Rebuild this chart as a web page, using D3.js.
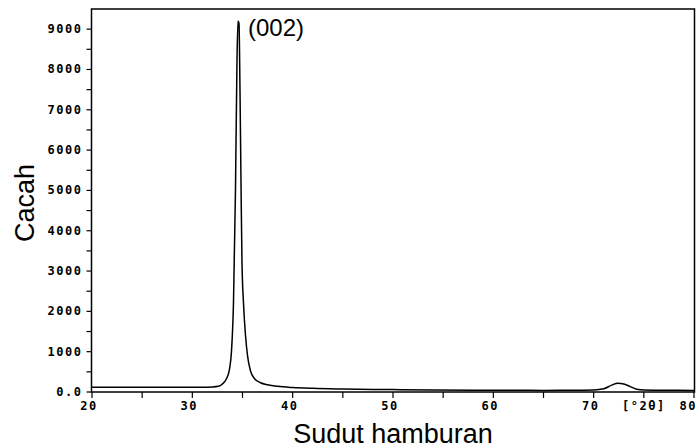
<!DOCTYPE html>
<html>
<head>
<meta charset="utf-8">
<script src="https://cdn.jsdelivr.net/npm/d3@7"></script>
<style>
  body { margin: 0; background: #fff; }
  svg { display: block; }
</style>
</head>
<body>
<div id="chart"></div>
<script>
// 2-theta positions (deg) and counts
const twoTheta = [20, 22, 24, 26, 28, 30, 31, 32, 32.6, 33.0, 33.4, 33.7, 33.9, 34.1, 34.3, 34.45,
  34.55, 34.65, 34.75, 34.85, 34.95, 35.1, 35.3, 35.5, 35.8, 36.2, 36.8, 37.5, 38.5, 40, 42, 45,
  48, 50, 54, 58, 62, 65, 68, 70, 71, 71.8, 72.4, 73.0, 73.6, 74.3, 75, 77, 80];
const counts = [120, 120, 115, 118, 115, 120, 120, 125, 140, 200, 330, 560, 1000, 2200, 5000, 8200,
  9200, 9150, 7500, 5200, 3200, 2200, 1400, 900, 520, 330, 230, 180, 140, 110, 90, 75,
  65, 60, 50, 45, 45, 40, 45, 50, 80, 170, 220, 200, 140, 70, 50, 45, 40];

const xTicks = [20, 30, 40, 50, 60, 70, 80];
const xMinor = [25, 35, 45, 55, 65, 75];
const yTicks = [0, 1000, 2000, 3000, 4000, 5000, 6000, 7000, 8000, 9000];
const yMinor = [500, 1500, 2500, 3500, 4500, 5500, 6500, 7500, 8500];
const peakLabel = { x: 34.55, y: 9200, text: '(002)' };

const width = 698, height = 448;
const x = d3.scaleLinear().domain([20, 80]).range([92, 694]);
const y = d3.scaleLinear().domain([0, 9500]).range([392, 9]);

const svg = d3.select('#chart').append('svg')
  .attr('width', width)
  .attr('height', height);

const tickFont = 'DejaVu Sans Mono, monospace';

// frame
svg.append('rect')
  .attr('x', x(20) - 0.5).attr('y', y(9500))
  .attr('width', x(80) - x(20) + 1).attr('height', y(0) - y(9500))
  .attr('fill', 'none').attr('stroke', '#000').attr('stroke-width', 1.5);

// y axis ticks
const yAxis = svg.append('g').attr('transform', `translate(${x(20) - 0.5},0)`);
yAxis.selectAll('line').data(yTicks.concat(yMinor)).join('line')
  .attr('x1', -5).attr('x2', 0)
  .attr('y1', d => y(d)).attr('y2', d => y(d))
  .attr('stroke', '#000').attr('stroke-width', 1.2);
yAxis.selectAll('text').data(yTicks).join('text')
  .attr('x', -9).attr('y', d => y(d) + 4)
  .attr('text-anchor', 'end')
  .attr('font-family', tickFont).attr('font-weight', 'bold')
  .attr('font-size', 12).attr('letter-spacing', 1.5)
  .text(d => d === 0 ? '0.0' : d3.format('d')(d));

// x axis ticks
const xAxis = svg.append('g').attr('transform', `translate(0,${y(0)})`);
xAxis.selectAll('line').data(xTicks.concat(xMinor)).join('line')
  .attr('x1', d => x(d)).attr('x2', d => x(d))
  .attr('y1', 0).attr('y2', 6)
  .attr('stroke', '#000').attr('stroke-width', 1.2);
xAxis.selectAll('text').data(xTicks).join('text')
  .attr('x', d => d === 80 ? 697 : x(d) - 3).attr('y', 18)
  .attr('text-anchor', d => d === 80 ? 'end' : 'middle')
  .attr('font-family', tickFont).attr('font-weight', 'bold')
  .attr('font-size', 12).attr('letter-spacing', 1.5)
  .text(d => d);
xAxis.append('text')
  .attr('x', x(75)).attr('y', 18)
  .attr('text-anchor', 'middle')
  .attr('font-family', tickFont).attr('font-weight', 'bold')
  .attr('font-size', 12).attr('letter-spacing', 1.5)
  .text('[°2θ]');

// pattern
const pts = twoTheta.map((t, i) => [t, counts[i]]);
const line = d3.line().x(d => x(d[0])).y(d => y(d[1])).curve(d3.curveMonotoneX);
svg.append('path')
  .datum(pts)
  .attr('d', line)
  .attr('fill', 'none')
  .attr('stroke', '#000')
  .attr('stroke-width', 1.5);

// peak label
svg.append('text')
  .attr('x', x(peakLabel.x) + 10).attr('y', y(peakLabel.y) + 15)
  .attr('font-family', 'Liberation Sans, Arial, sans-serif')
  .attr('font-size', 24)
  .text(peakLabel.text);

// axis titles
svg.append('text')
  .attr('transform', `translate(34,203) rotate(-90)`)
  .attr('text-anchor', 'middle')
  .attr('font-family', 'Liberation Sans, Arial, sans-serif')
  .attr('font-size', 27)
  .text('Cacah');
svg.append('text')
  .attr('x', 393).attr('y', 443)
  .attr('text-anchor', 'middle')
  .attr('font-family', 'Liberation Sans, Arial, sans-serif')
  .attr('font-size', 27)
  .text('Sudut hamburan');
</script>
</body>
</html>
